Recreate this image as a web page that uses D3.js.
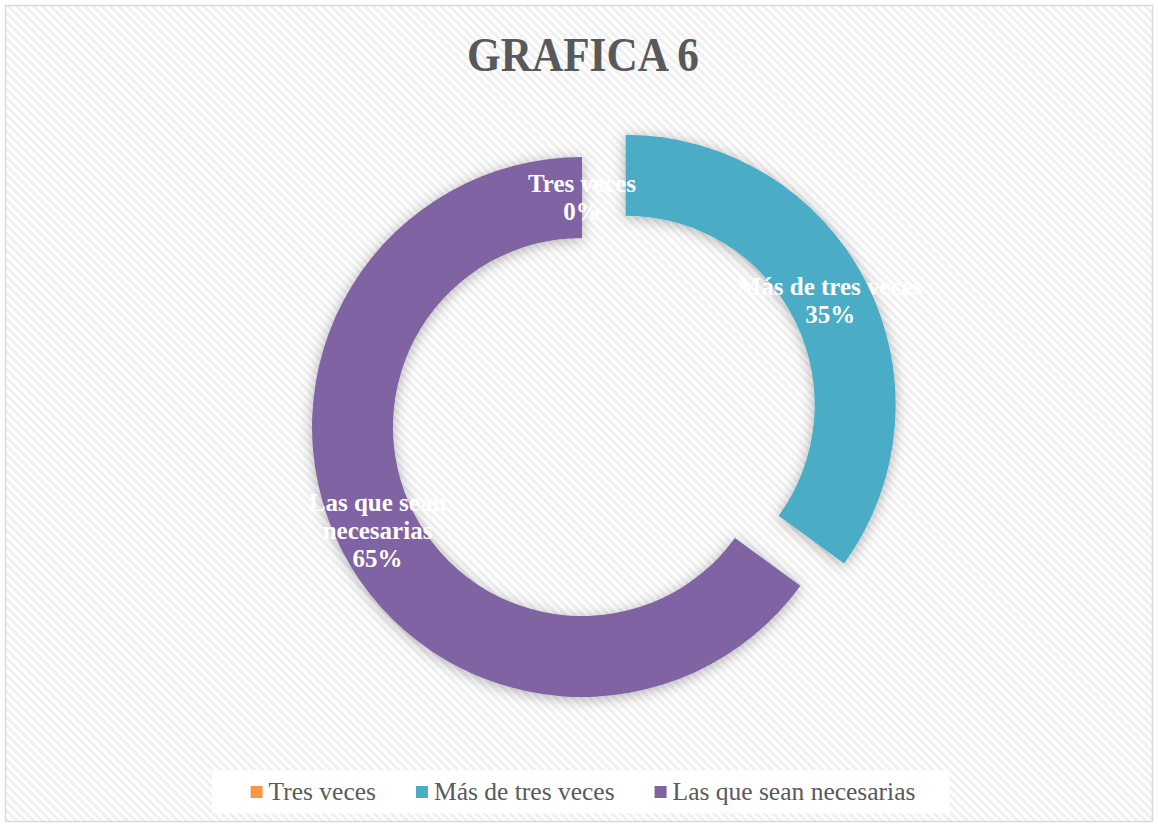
<!DOCTYPE html>
<html><head><meta charset="utf-8">
<script src="https://cdn.jsdelivr.net/npm/d3@7"></script>
<style>body{margin:0;background:#fff}svg{display:block}</style>
</head><body>
<svg id="c" width="1158" height="827"></svg>
<script>
const categories = ["Tres veces", "Más de tres veces", "Las que sean necesarias"];
const values = [0, 35, 65];
const labelLines = [["Tres veces", "0%"], ["Más de tres veces", "35%"], ["Las que sean", "necesarias", "65%"]];
const colors = ["#F79646", "#4BACC6", "#8064A2"];
const explode = [0, 49, 0];
const title = "GRAFICA 6";

const svg = d3.select("#c");
const W = 1158, H = 827;
const defs = svg.append("defs");
const pat = defs.append("pattern").attr("id","hatch").attr("patternUnits","userSpaceOnUse")
  .attr("width",6).attr("height",6).attr("patternTransform","rotate(-45)");
pat.append("rect").attr("width",6).attr("height",6).attr("fill","#ffffff");
pat.append("rect").attr("width",3).attr("height",6).attr("fill","#f0f0f0");
const f = defs.append("filter").attr("id","sh").attr("x","-20%").attr("y","-20%").attr("width","140%").attr("height","140%");
f.append("feDropShadow").attr("dx",0).attr("dy",2).attr("stdDeviation",7).attr("flood-color","#000").attr("flood-opacity",0.3);

svg.append("rect").attr("x",5.5).attr("y",5.5).attr("width",W-11).attr("height",H-11)
  .attr("fill","url(#hatch)").attr("stroke","#d9d9d9").attr("stroke-width",1.5);

svg.append("text").attr("x",583).attr("y",71).attr("text-anchor","middle")
  .attr("font-family","'Liberation Serif', serif").attr("font-weight","bold")
  .attr("font-size",49).attr("fill","#595959")
  .attr("textLength",232).attr("lengthAdjust","spacingAndGlyphs").text(title);

const cx = 582, cy = 427, R = 270, r = 189;
const pie = d3.pie().sort(null).value(d => d)(values);
const arc = d3.arc().innerRadius(r).outerRadius(R);
const g = svg.append("g").attr("transform",`translate(${cx},${cy})`);
const offs = pie.map((p,i) => {
  const a = (p.startAngle + p.endAngle)/2;
  return [Math.sin(a)*explode[i], -Math.cos(a)*explode[i]];
});
g.selectAll("path.s").data(pie).join("path").attr("class","s")
  .attr("d", arc).attr("fill",(d,i)=>colors[i])
  .attr("transform",(d,i)=>`translate(${offs[i][0]},${offs[i][1]})`)
  .attr("filter","url(#sh)");

const lh = 28;
pie.forEach((p,i) => {
  const c = arc.centroid(p);
  const x = c[0]+offs[i][0], y = c[1]+offs[i][1];
  const lines = labelLines[i];
  const t = g.append("text").attr("text-anchor","middle")
    .attr("font-family","'Liberation Serif', serif").attr("font-weight","bold")
    .attr("font-size",25).attr("fill","#ffffff");
  lines.forEach((ln,k) => {
    t.append("tspan").attr("x",x).attr("y", y + (k - (lines.length-1)/2)*lh + 8).text(ln);
  });
});

// legend
svg.append("rect").attr("x",212).attr("y",770).attr("width",738).attr("height",43).attr("fill","#ffffff");
const lg = svg.append("g");
const items = lg.selectAll("g").data(categories).join("g");
items.append("rect").attr("width",12).attr("height",12).attr("y",786).attr("fill",(d,i)=>colors[i]);
items.append("text").attr("y",800).attr("font-family","'Liberation Serif', serif")
  .attr("font-size",25.5).attr("fill","#595959").text(d=>d);
let widths = [];
items.each(function(){ widths.push(d3.select(this).select("text").node().getComputedTextLength()); });
const gapSq = 6, gapItem = 40;
const total = widths.reduce((s,w)=>s+12+gapSq+w,0) + gapItem*(widths.length-1);
let xs = 583 - total/2;
items.each(function(d,i){
  const it = d3.select(this);
  it.select("rect").attr("x", xs);
  it.select("text").attr("x", xs+12+gapSq);
  xs += 12+gapSq+widths[i]+gapItem;
});
</script>
</body></html>
